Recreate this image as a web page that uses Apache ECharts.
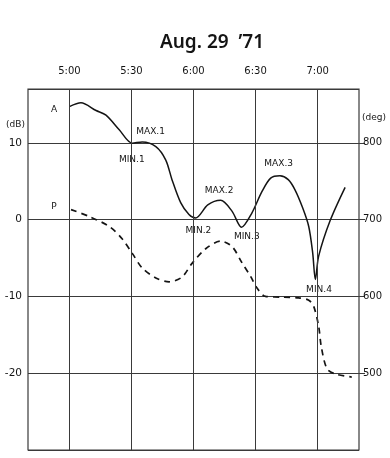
<!DOCTYPE html>
<html><head><meta charset="utf-8">
<script src="https://cdn.jsdelivr.net/npm/echarts@6/dist/echarts.min.js"></script>
<style>html,body{margin:0;padding:0;background:#fff}#c{width:390px;height:458px}</style>
</head><body><div id="c"></div>
<script>
// minutes after 5:00
const timeTicks = [0, 30, 60, 90, 120];
const timeLabels = ['5:00', '5:30', '6:00', '6:30', '7:00'];
const dbTicks = [-20, -10, 0, 10];
const degTicks = [500, 600, 700, 800];

// Amplitude A (dB)
const aTime = [0, 5.6, 12.9, 17.7, 24.1, 30.4, 35.2, 41.8, 46.6, 49.6, 53.8, 57.8, 61.0, 66.9, 73.1, 78.6, 83.2, 88.2, 93.0, 97.3, 101.8, 105.8, 109.0, 112.8, 115.7, 117.6, 118.9, 120.5, 126.1, 133.3];
const aDb = [14.7, 15.2, 14.2, 13.6, 11.7, 9.95, 10.1, 9.5, 7.75, 5.2, 2.2, 0.66, 0.2, 1.9, 2.5, 1.1, -1.0, 0.85, 3.6, 5.4, 5.7, 5.2, 3.9, 1.5, -0.9, -4.3, -7.8, -4.75, -0.1, 4.2];

// Phase P (deg)
const pTime = [0.8, 9.6, 19.3, 25.5, 30.4, 35.2, 41.8, 48.2, 54.4, 59.3, 65.9, 73.1, 78.6, 83.4, 87.6, 90.7, 94.8, 102.6, 110.8, 115.7, 118.1, 120.5, 121.8, 124.5, 128.5, 136.5];
const pDeg = [713, 704, 691, 675, 656, 637, 624, 619, 625, 643, 662, 672, 665, 644, 626, 611, 600, 599, 598, 595, 587, 561, 534, 506, 499, 495];

// annotations (time, dB)
const noteText = ['A', 'P', 'MAX.1', 'MIN.1', 'MAX.2', 'MIN.2', 'MIN.3', 'MAX.3', 'MIN.4'];
const noteTime = [-7.2, -7.2, 39.5, 30.4, 72.6, 62.6, 86.0, 101.4, 120.9];
const noteDb = [14.3, 1.6, 11.4, 7.8, 3.75, -1.5, -2.3, 7.2, -9.25];

const FONT = 'DejaVu Sans';
const INK = '#141414';
const GRID = '#3a3a3a';

const chart = echarts.init(document.getElementById('c'), null, {renderer: 'canvas'});
const fmtTime = v => {
  const i = timeTicks.indexOf(v);
  return i >= 0 ? timeLabels[i] : '';
};

chart.setOption({
  animation: false,
  backgroundColor: '#fff',
  title: {
    text: "Aug. 29  \u201971",
    left: 207, top: 28, textAlign: 'center',
    textStyle: {fontFamily: 'Noto Sans', fontWeight: 600, fontSize: 19, color: INK}
  },
  graphic: [
    {type: 'text', left: 6, top: 120, style: {text: '(dB)', font: '9px "DejaVu Sans"', fill: INK}},
    {type: 'text', left: 362, top: 113, style: {text: '(deg)', font: '9px "DejaVu Sans"', fill: INK}}
  ],
  grid: {left: 28, right: 31, top: 89, bottom: 8, show: true, borderColor: GRID, borderWidth: 1.2, backgroundColor: 'transparent'},
  xAxis: {
    type: 'value', position: 'top', min: -20, max: 140, interval: 10,
    axisLine: {show: false}, axisTick: {show: false}, splitLine: {show: false},
    axisLabel: {customValues: timeTicks, formatter: fmtTime, margin: 13, fontFamily: FONT, fontSize: 10, color: INK}
  },
  yAxis: [
    {
      type: 'value', min: -30, max: 17, interval: 10,
      axisLine: {show: false}, axisTick: {show: false},
      splitLine: {show: true, lineStyle: {color: GRID, width: 1}},
      axisLabel: {customValues: dbTicks, margin: 6, fontFamily: FONT, fontSize: 10.5, color: INK}
    },
    {
      type: 'value', min: 400, max: 870, interval: 100, position: 'right',
      axisLine: {show: false},
      axisTick: {show: true, customValues: degTicks, length: 6, lineStyle: {color: GRID, width: 1}},
      splitLine: {show: false},
      axisLabel: {customValues: degTicks, margin: 4, fontFamily: FONT, fontSize: 10, color: INK}
    }
  ],
  series: [
    {
      type: 'line', name: 'A', yAxisIndex: 0, smooth: 0.3, symbol: 'none',
      data: aTime.map((t, i) => [t, aDb[i]]),
      lineStyle: {color: INK, width: 1.5},
      markLine: {
        silent: true, symbol: 'none', label: {show: false},
        lineStyle: {color: GRID, width: 1, type: 'solid'},
        data: timeTicks.map(v => ({xAxis: v}))
      },
      z: 3
    },
    {
      type: 'line', name: 'P', yAxisIndex: 1, smooth: 0.3, symbol: 'none',
      data: pTime.map((t, i) => [t, pDeg[i]]),
      lineStyle: {color: INK, width: 1.7, type: [6, 5]},
      z: 3
    },
    {
      type: 'scatter', yAxisIndex: 0, symbolSize: 1, clip: false, silent: true,
      itemStyle: {color: '#fff', opacity: 0},
      data: noteTime.map((t, i) => ({value: [t, noteDb[i]], name: noteText[i]})),
      label: {show: true, position: [0, 0], align: 'center', verticalAlign: 'middle',
        formatter: p => p.name, fontFamily: FONT, fontSize: 9, color: INK, opacity: 1,
        textBorderWidth: 0},
      z: 4
    }
  ]
});
</script></body></html>
